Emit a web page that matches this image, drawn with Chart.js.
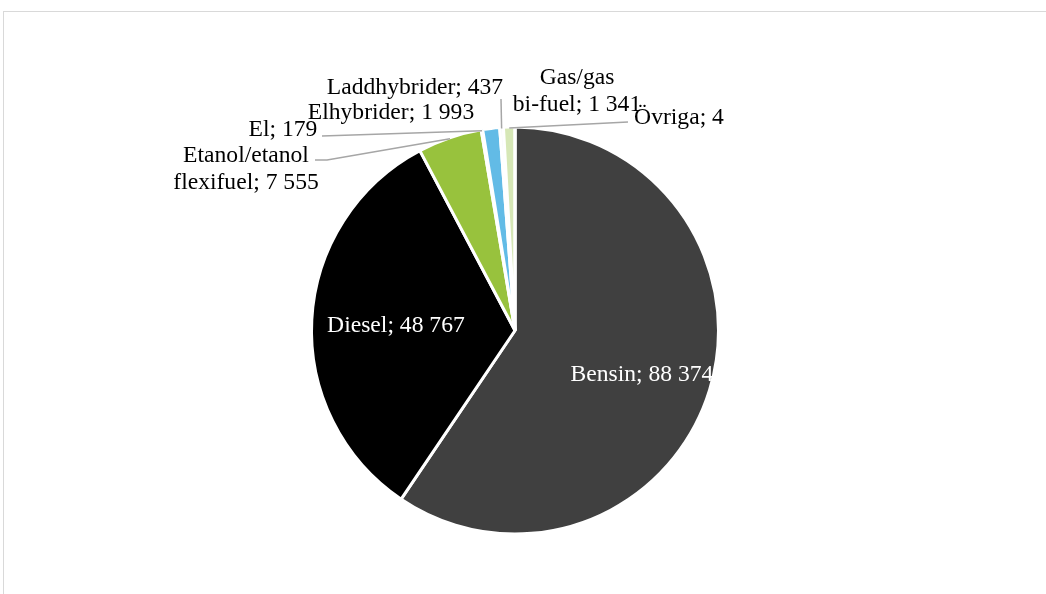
<!DOCTYPE html>
<html>
<head>
<meta charset="utf-8">
<style>
  html, body { margin: 0; padding: 0; background: #fff; }
  #wrap { position: relative; width: 1046px; height: 594px; overflow: hidden; }
  #frame { position: absolute; left: 3px; top: 11px; width: 1100px; height: 700px;
           border-top: 1px solid #d9d9d9; border-left: 1px solid #d9d9d9; }
  canvas { position: absolute; left: 0; top: 0; }
</style>
</head>
<body>
<div id="wrap">
  <div id="frame"></div>
  <canvas id="fuel-chart" width="1046" height="594"></canvas>
</div>
<script src="https://cdn.jsdelivr.net/npm/chart.js@4.4.1/dist/chart.umd.min.js"></script>
<script>
// Personbilar per drivmedel
const categories = ['Bensin', 'Diesel', 'Etanol/etanol flexifuel', 'El', 'Elhybrider', 'Laddhybrider', 'Gas/gas bi-fuel', 'Övriga'];
const values = [88374, 48767, 7555, 179, 1993, 437, 1341, 4];
const colors = ['#404040', '#000000', '#98c23d', '#eef3f8', '#62bbe6', '#f4f8fb', '#d6e7b6', '#eef3e4'];

// how each label is written (Excel style thousands with a space)
const fmt = (v) => String(v).replace(/\B(?=(\d{3})+(?!\d))/g, ' ');
const labelLines = [
  ['Bensin; ' + fmt(values[0])],
  ['Diesel; ' + fmt(values[1])],
  ['Etanol/etanol', 'flexifuel; ' + fmt(values[2])],
  ['El; ' + fmt(values[3])],
  ['Elhybrider; ' + fmt(values[4])],
  ['Laddhybrider; ' + fmt(values[5])],
  ['Gas/gas', 'bi-fuel; ' + fmt(values[6])],
  ['Övriga; ' + fmt(values[7])],
];

// label placement: inside labels sit on the mid angle, outside ones at x / first baseline
const labelPlace = [
  { inside: true, r: 0.652, dy: 12, color: '#ffffff' },
  { inside: true, r: 0.586, dy: 8, color: '#ffffff' },
  { x: 246, y: 162, leader: [[315, 160], [327, 160]] },
  { x: 283, y: 136, leader: [[322, 136]] },
  { x: 391, y: 119 },
  { x: 415, y: 94, leader: [[501, 99]] },
  { x: 577, y: 84, leader: [[628, 122]] },
  { x: 679, y: 124 },
];

const labelPlugin = {
  id: 'sliceLabels',
  afterDatasetsDraw(chart) {
    const ctx = chart.ctx;
    const meta = chart.getDatasetMeta(0);
    ctx.save();
    ctx.font = '23.6px "Liberation Serif", "Times New Roman", serif';
    ctx.textAlign = 'center';
    ctx.textBaseline = 'alphabetic';
    meta.data.forEach((arc, i) => {
      const p = arc.getProps(['x', 'y', 'startAngle', 'endAngle', 'outerRadius'], true);
      const mid = (p.startAngle + p.endAngle) / 2;
      const place = labelPlace[i];
      const lines = labelLines[i];
      if (place.inside) {
        const r = p.outerRadius * place.r;
        const cx = p.x + Math.cos(mid) * r;
        const cy = p.y + Math.sin(mid) * r;
        ctx.fillStyle = place.color;
        ctx.fillText(lines[0], cx, cy + place.dy);
        return;
      }
      if (place.leader) {
        const ax = p.x + Math.cos(mid) * (p.outerRadius - 1);
        const ay = p.y + Math.sin(mid) * (p.outerRadius - 1);
        ctx.strokeStyle = '#a6a6a6';
        ctx.lineWidth = 1.5;
        ctx.beginPath();
        ctx.moveTo(ax, ay);
        for (let k = place.leader.length - 1; k >= 0; k--) {
          ctx.lineTo(place.leader[k][0], place.leader[k][1]);
        }
        ctx.stroke();
      }
      ctx.fillStyle = '#000000';
      lines.forEach((line, j) => {
        ctx.fillText(line, place.x, place.y + j * 26.5);
      });
    });
    ctx.restore();
  },
};

new Chart(document.getElementById('fuel-chart'), {
  type: 'pie',
  data: {
    labels: categories,
    datasets: [
      {
        data: values,
        backgroundColor: colors,
        borderColor: '#ffffff',
        borderWidth: 3,
        hoverBorderWidth: 3,
      },
    ],
  },
  options: {
    responsive: false,
    animation: false,
    layout: { padding: { left: 310, right: 326, top: 125.5, bottom: 58.5 } },
    plugins: {
      legend: { display: false },
      tooltip: { enabled: false },
    },
  },
  plugins: [labelPlugin],
});
</script>
</body>
</html>
